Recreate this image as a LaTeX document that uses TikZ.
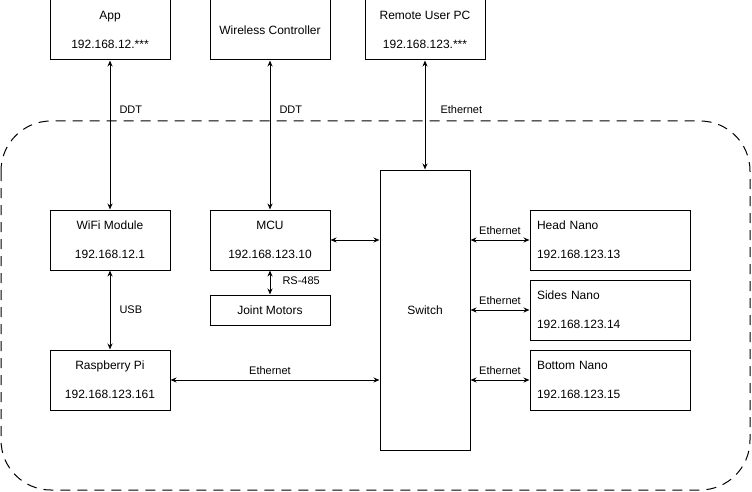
\documentclass[tikz,border=0pt]{standalone}
\usepackage{fontspec}
\setmainfont{Liberation Sans}
\usetikzlibrary{arrows.meta}

\begin{document}
\begin{tikzpicture}[x=1pt, y=-1pt]
% Styles
\tikzstyle{dev_box} = [rectangle, draw, line width=1pt, inner sep=0pt, minimum width=120pt, minimum height=60pt, align=center, font=\fontsize{12}{14}\selectfont]
\tikzstyle{nano_box} = [dev_box, minimum width=160pt, text width=146pt, align=left]
\tikzstyle{link} = [line width=1pt, {Stealth[length=6pt,width=5pt]}-{Stealth[length=6pt,width=5pt]}]
\tikzstyle{lbl} = [inner sep=0pt, font=\fontsize{11}{13}\selectfont]

\useasboundingbox (0,0) rectangle (752,492);

% Robot boundary
\draw[line width=1pt, dash pattern=on 10pt off 7pt, rounded corners=50pt] (1,121) rectangle (750,490);

% Outside devices
\node[dev_box] (app) at (110,30) {App\\[15pt]192.168.12.***};
\node[dev_box] (ctrl) at (270,30) {Wireless Controller};
\node[dev_box] (remote) at (425,30) {Remote User PC\\[15pt]192.168.123.***};

% Onboard devices
\node[dev_box] (wifi) at (110,240) {WiFi Module\\[15pt]192.168.12.1};
\node[dev_box] (mcu) at (270,240) {MCU\\[15pt]192.168.123.10};
\node[dev_box, minimum height=30pt] (motors) at (270,310) {Joint Motors};
\node[dev_box] (rpi) at (110,380) {Raspberry Pi\\[15pt]192.168.123.161};
\node[dev_box, minimum width=90pt, minimum height=280pt] (switch) at (425,310) {Switch};

% Jetson nanos
\node[nano_box] (head) at (610,240) {Head Nano\\[15pt]192.168.123.13};
\node[nano_box] (sides) at (610,310) {Sides Nano\\[15pt]192.168.123.14};
\node[nano_box] (bottom) at (610,380) {Bottom Nano\\[15pt]192.168.123.15};

% Connections
\draw[link] (app) -- node[lbl, pos=0.33, right=9pt] {DDT} (wifi);
\draw[link] (ctrl) -- node[lbl, pos=0.33, right=9pt] {DDT} (mcu);
\draw[link] (remote) -- node[lbl, pos=0.45, right=15pt] {Ethernet} (switch);
\draw[link] (wifi) -- node[lbl, right=9pt] {USB} (rpi);
\draw[link] (mcu) -- node[lbl, pos=0.44, right=12pt] {RS-485} (motors);
\draw[link] (mcu.east) -- (mcu.east -| switch.west);
\draw[link] (rpi.east) -- node[lbl, pos=0.476, above=5pt] {Ethernet} (rpi.east -| switch.west);
\foreach \nano in {head, sides, bottom} {
    \draw[link] (\nano.west -| switch.east) -- node[lbl, above=5pt] {Ethernet} (\nano.west);
}
\end{tikzpicture}
\end{document}
